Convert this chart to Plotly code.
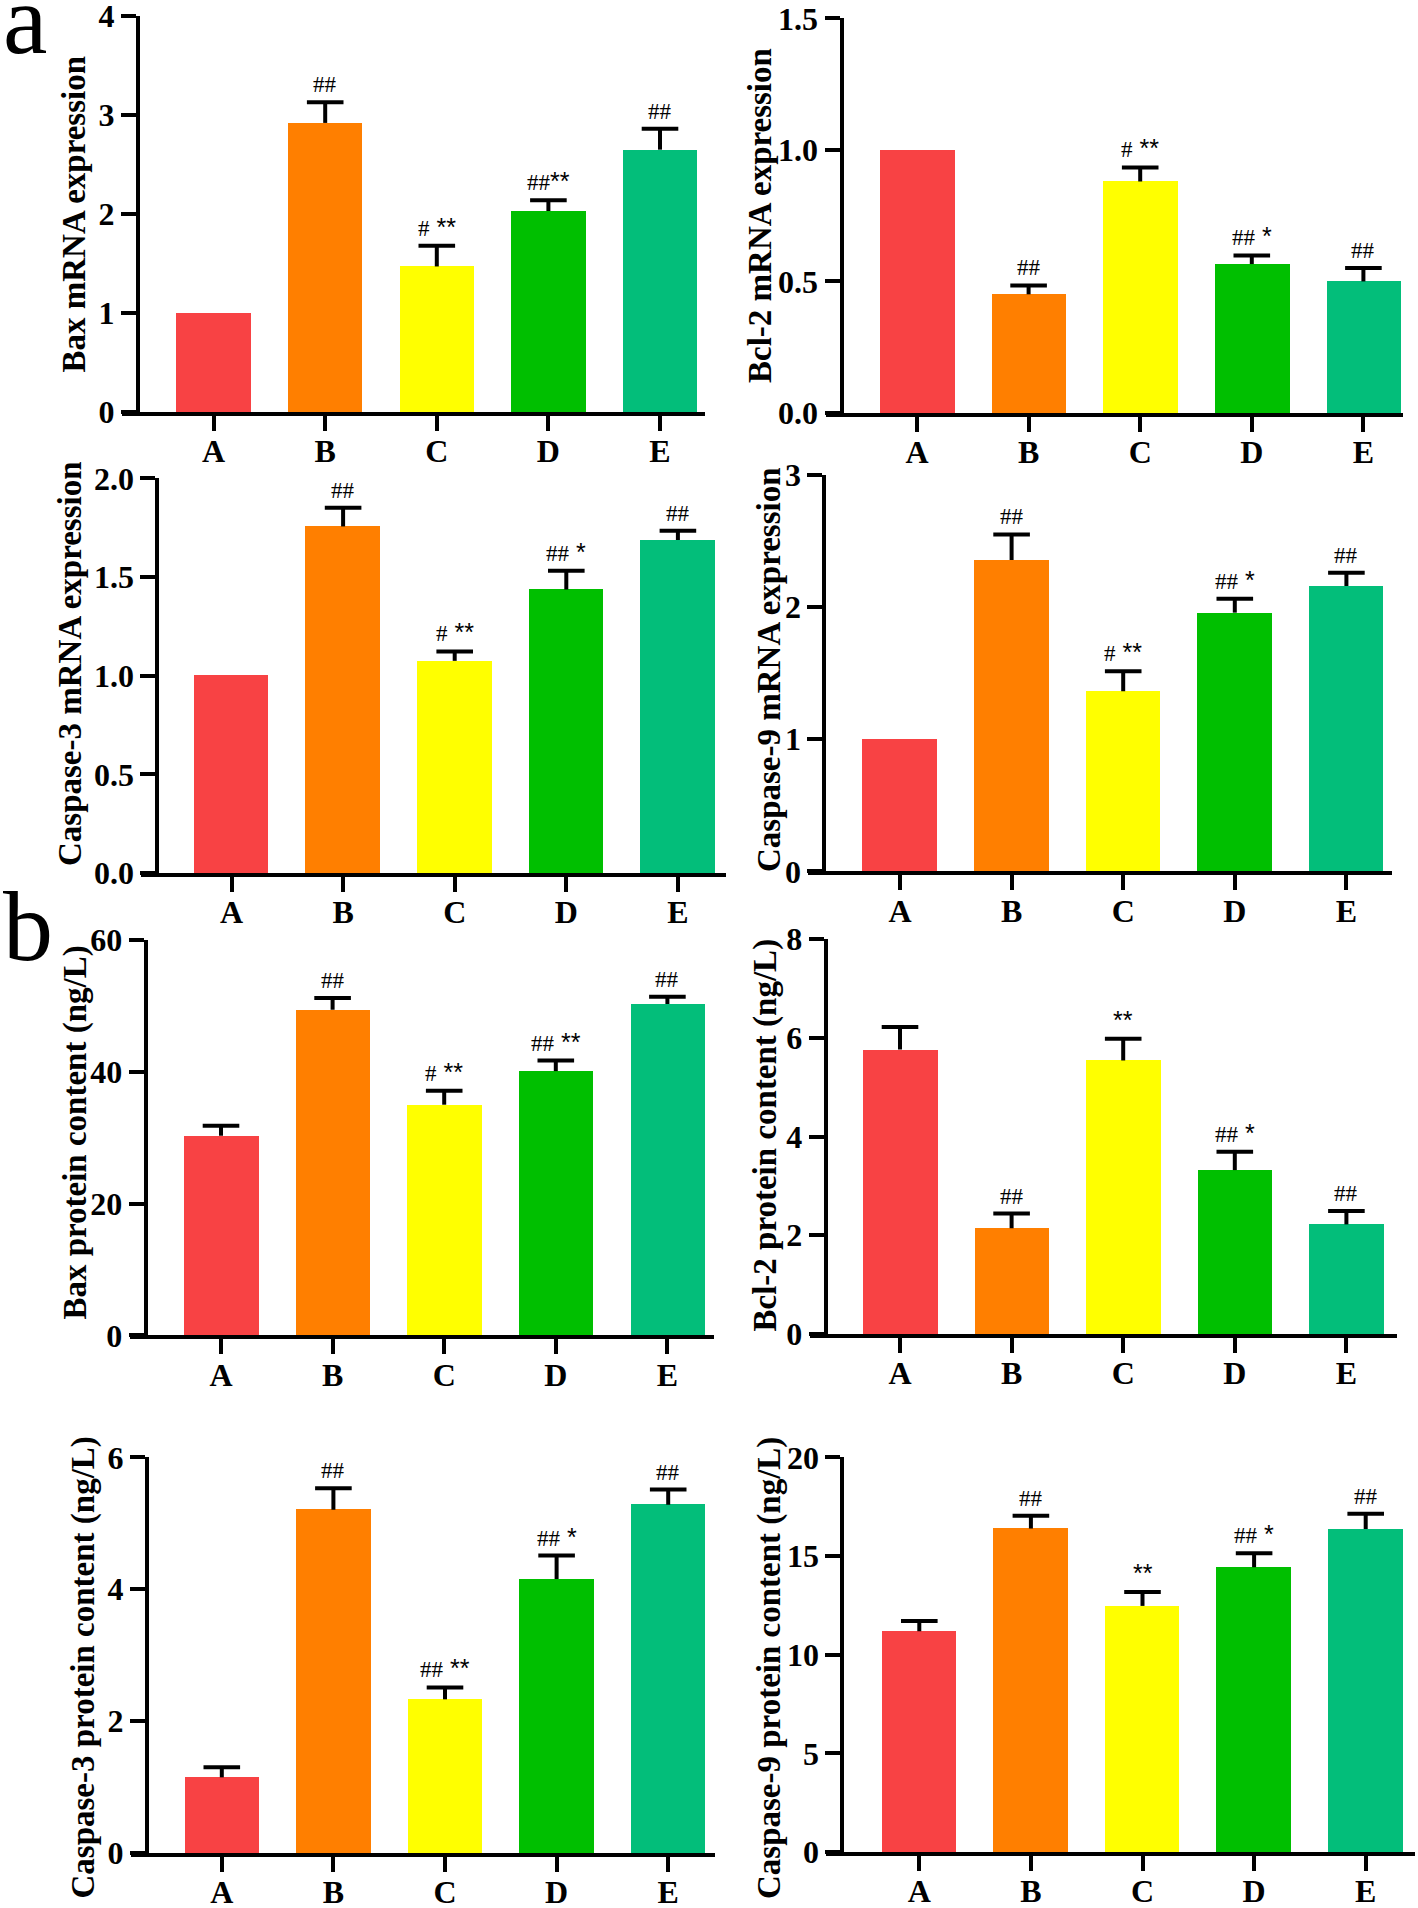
import plotly.graph_objects as go

W, H = 1418, 1908

# ---------------- data ----------------
categories = ["A", "B", "C", "D", "E"]
bar_colors = ["#F84244", "#FF7F00", "#FFFF00", "#00BF00", "#03BE7A"]

bax_mrna = [1.00, 2.92, 1.47, 2.03, 2.65]
bax_mrna_err = [0, 0.21, 0.21, 0.11, 0.21]
bax_mrna_sig = ["", "##", "# **", "##**", "##"]

bcl2_mrna = [1.00, 0.451, 0.88, 0.566, 0.50]
bcl2_mrna_err = [0, 0.034, 0.053, 0.033, 0.051]
bcl2_mrna_sig = ["", "##", "# **", "## *", "##"]

casp3_mrna = [1.00, 1.756, 1.075, 1.437, 1.687]
casp3_mrna_err = [0, 0.095, 0.048, 0.094, 0.047]
casp3_mrna_sig = ["", "##", "# **", "## *", "##"]

casp9_mrna = [1.00, 2.357, 1.363, 1.958, 2.159]
casp9_mrna_err = [0, 0.193, 0.151, 0.106, 0.101]
casp9_mrna_sig = ["", "##", "# **", "## *", "##"]

bax_prot = [30.3, 49.4, 35.0, 40.1, 50.3]
bax_prot_err = [1.5, 1.8, 2.1, 1.6, 1.1]
bax_prot_sig = ["", "##", "# **", "## **", "##"]

bcl2_prot = [5.76, 2.14, 5.54, 3.32, 2.22]
bcl2_prot_err = [0.46, 0.30, 0.44, 0.37, 0.27]
bcl2_prot_sig = ["", "##", "**", "## *", "##"]

casp3_prot = [1.147, 5.205, 2.33, 4.154, 5.28]
casp3_prot_err = [0.153, 0.325, 0.18, 0.356, 0.23]
casp3_prot_sig = ["", "##", "## **", "## *", "##"]

casp9_prot = [11.19, 16.39, 12.47, 14.43, 16.37]
casp9_prot_err = [0.51, 0.65, 0.70, 0.71, 0.77]
casp9_prot_sig = ["", "##", "**", "## *", "##"]

titles = [
    "Bax mRNA expression", "Bcl-2 mRNA expression",
    "Caspase-3 mRNA expression", "Caspase-9 mRNA expression",
    "Bax protein content (ng/L)", "Bcl-2 protein content (ng/L)",
    "Caspase-3 protein content (ng/L)", "Caspase-9 protein content (ng/L)",
]
y_max = [4, 1.5, 2.0, 3, 60, 8, 6, 20]
y_tickvals = [
    [0, 1, 2, 3, 4],
    [0, 0.5, 1.0, 1.5],
    [0, 0.5, 1.0, 1.5, 2.0],
    [0, 1, 2, 3],
    [0, 20, 40, 60],
    [0, 2, 4, 6, 8],
    [0, 2, 4, 6],
    [0, 5, 10, 15, 20],
]
y_ticktext = [
    ["0", "1", "2", "3", "4"],
    ["0.0", "0.5", "1.0", "1.5"],
    ["0.0", "0.5", "1.0", "1.5", "2.0"],
    ["0", "1", "2", "3"],
    ["0", "20", "40", "60"],
    ["0", "2", "4", "6", "8"],
    ["0", "2", "4", "6"],
    ["0", "5", "10", "15", "20"],
]

series = [
    (bax_mrna, bax_mrna_err, bax_mrna_sig),
    (bcl2_mrna, bcl2_mrna_err, bcl2_mrna_sig),
    (casp3_mrna, casp3_mrna_err, casp3_mrna_sig),
    (casp9_mrna, casp9_mrna_err, casp9_mrna_sig),
    (bax_prot, bax_prot_err, bax_prot_sig),
    (bcl2_prot, bcl2_prot_err, bcl2_prot_sig),
    (casp3_prot, casp3_prot_err, casp3_prot_sig),
    (casp9_prot, casp9_prot_err, casp9_prot_sig),
]

# ---------------- layout geometry (pixels) ----------------
# y-axis x, first category centre, x-axis end, top, bottom, title x, title y
geom = [
    (138.0, 213.6, 705.0, 16.0, 414.0, 73.5, 214),
    (841.5, 917.0, 1403.0, 18.3, 415.0, 760.0, 216),
    (157.4, 231.5, 725.7, 478.3, 875.0, 70.0, 664),
    (824.3, 900.0, 1391.8, 475.0, 873.3, 769.0, 670),
    (145.6, 221.0, 714.0, 940.0, 1337.3, 74.6, 1133),
    (825.7, 900.0, 1397.0, 939.0, 1336.0, 764.5, 1135),
    (147.0, 221.8, 715.0, 1457.3, 1855.0, 82.5, 1668),
    (842.4, 919.3, 1414.7, 1457.3, 1854.0, 769.0, 1668),
]
STEP = 111.6      # px between category centres
TICKLEN = 15
LW = 4
CAP = 18.3 / STEP  # half cap width in category units

FONT = "Liberation Serif"
TICKFONT = dict(family=FONT, size=32, color="black")
fig = go.Figure()
annotations = []
layout = {}

for k, ((vals, errs, sigs), (yx, acx, xend, top, bot, tx, ty)) in enumerate(zip(series, geom)):
    n = k + 1
    xa = "x" if n == 1 else f"x{n}"
    ya = "y" if n == 1 else f"y{n}"
    xkey = "xaxis" if n == 1 else f"xaxis{n}"
    ykey = "yaxis" if n == 1 else f"yaxis{n}"
    xs = list(range(len(categories)))

    fig.add_trace(go.Bar(
        x=xs, y=vals, width=0.668, marker=dict(color=bar_colors, line=dict(width=0)),
        xaxis=xa, yaxis=ya, showlegend=False, hoverinfo="skip"))

    ex, ey = [], []
    for i, (v, e) in enumerate(zip(vals, errs)):
        if e <= 0:
            continue
        ex += [i, i, None, i - CAP, i + CAP, None]
        ey += [v, v + e, None, v + e, v + e, None]
    fig.add_trace(go.Scatter(
        x=ex, y=ey, mode="lines", line=dict(color="black", width=LW),
        xaxis=xa, yaxis=ya, showlegend=False, hoverinfo="skip"))

    x0 = yx - TICKLEN - 1
    lo = -(acx - x0) / STEP
    hi = (xend - acx) / STEP
    layout[xkey] = dict(
        domain=[x0 / W, xend / W], range=[lo, hi], anchor=ya,
        tickmode="array", tickvals=xs, ticktext=[f"<b>{c}</b>" for c in categories],
        showline=True, linewidth=LW, linecolor="black",
        ticks="outside", ticklen=TICKLEN, tickwidth=LW, tickcolor="black",
        showgrid=False, zeroline=False, fixedrange=True, automargin=False,
        tickfont=TICKFONT, ticklabelstandoff=-7, ticklabeloverflow="allow",
    )
    layout[ykey] = dict(
        domain=[1 - (bot - 2) / H, 1 - top / H], range=[0, y_max[k]],
        anchor="free", position=yx / W,
        tickmode="array", tickvals=y_tickvals[k],
        ticktext=[f"<b>{t}</b>" for t in y_ticktext[k]],
        showline=True, linewidth=LW, linecolor="black",
        ticks="outside", ticklen=TICKLEN, tickwidth=LW, tickcolor="black",
        showgrid=False, zeroline=False, fixedrange=True, automargin=False,
        tickfont=TICKFONT, ticklabelstandoff=0, ticklabeloverflow="allow",
    )

    annotations.append(dict(
        text=f"<b>{titles[k]}</b>", textangle=-90, xref="paper", yref="paper",
        x=tx / W, y=1 - ty / H, xanchor="center", yanchor="middle",
        showarrow=False, font=dict(family=FONT, size=33, color="black")))

    for i, (v, e, s) in enumerate(zip(vals, errs, sigs)):
        if not s:
            continue
        hashes = s.rstrip("* ")
        stars = s[len(hashes):]
        txt = hashes
        if stars:
            txt += '<span style="font-family:Liberation Sans;font-size:25px">' + stars + "</span>"
        annotations.append(dict(
            text=txt, xref=xa, yref=ya, x=i, y=v + e, xanchor="center",
            yanchor="bottom", yshift=3, showarrow=False,
            font=dict(family=FONT, size=23, color="black")))

# panel letters
annotations.append(dict(text="a", xref="paper", yref="paper", x=1 / W, y=1 - 77 / H,
                        xanchor="left", yanchor="bottom", showarrow=False,
                        font=dict(family=FONT, size=100, color="black")))
annotations.append(dict(text="b", xref="paper", yref="paper", x=1 / W, y=1 - 984 / H,
                        xanchor="left", yanchor="bottom", showarrow=False,
                        font=dict(family=FONT, size=100, color="black")))

fig.update_layout(
    width=W, height=H, margin=dict(l=0, r=0, t=0, b=0, autoexpand=False),
    paper_bgcolor="white", plot_bgcolor="white",
    annotations=annotations, bargap=0, **layout)

fig.write_html("out.html", post_script="document.body.style.margin='0';",
               config={"displayModeBar": False})
